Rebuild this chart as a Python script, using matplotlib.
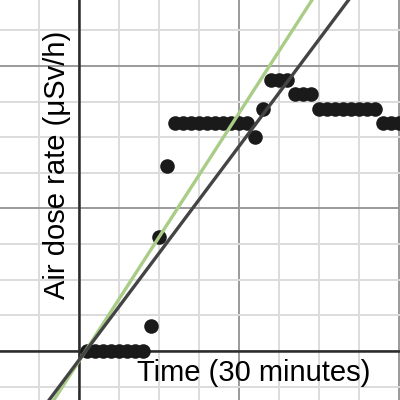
import numpy as np
import matplotlib.pyplot as plt

# time index (units of 30 minutes) and measured dose rate (offset)
time_idx = np.arange(1, 41)
dose_rate = [0.00, 0.00, 0.00, 0.00, 0.00, 0.00, 0.00, 0.00,
             0.035, 0.16, 0.26,
             0.32, 0.32, 0.32, 0.32, 0.32, 0.32, 0.32, 0.32, 0.32, 0.32,
             0.30, 0.34,
             0.38, 0.38, 0.38,
             0.36, 0.36, 0.36,
             0.34, 0.34, 0.34, 0.34, 0.34, 0.34, 0.34, 0.34,
             0.32, 0.32, 0.32]

# fitted lines: (slope, intercept)
fit_dark = (0.0150, -0.0128)
fit_green = (0.0174, -0.0142)

x_min, x_max = -9.875, 40.125
y_min, y_max = -0.0688, 0.4926

fig = plt.figure(figsize=(4, 4), dpi=100)
ax = fig.add_axes([0, 0, 1, 1])
ax.set_xlim(x_min, x_max)
ax.set_ylim(y_min, y_max)

# grid like a graphing calculator
for gx in np.arange(-5, 45, 5):
    major = gx % 20 == 0
    ax.axvline(gx, color='#9a9a9a' if major else '#dcdcdc', lw=1.4, zorder=0)
for gy in np.arange(-0.05, 0.5, 0.05):
    major = round(gy / 0.05) % 4 == 0
    ax.axhline(gy, color='#9a9a9a' if major else '#dcdcdc', lw=1.4, zorder=0)
ax.axvline(0, color='#2b2b2b', lw=1.8, zorder=1)
ax.axhline(0, color='#2b2b2b', lw=1.8, zorder=1)

ax.scatter(time_idx, dose_rate, s=110, color='#1a1a1a', linewidths=0, zorder=2)

xs = np.array([x_min, x_max])
ax.plot(xs, fit_green[0] * xs + fit_green[1], color='#a9cd86', lw=2.4, zorder=3)
ax.plot(xs, fit_dark[0] * xs + fit_dark[1], color='#444444', lw=2.4, zorder=3)

fig.text(137 / 400, 1 - 373 / 400, "Time (30 minutes)", fontsize=21,
         family='Liberation Sans', va='center', ha='left')
fig.text(57 / 400, 1 - 165 / 400, "Air dose rate (μSv/h)", fontsize=21,
         family='Liberation Sans', va='center', ha='center', rotation=90)

ax.set_axis_off()
fig.savefig("out.png", dpi=100)
